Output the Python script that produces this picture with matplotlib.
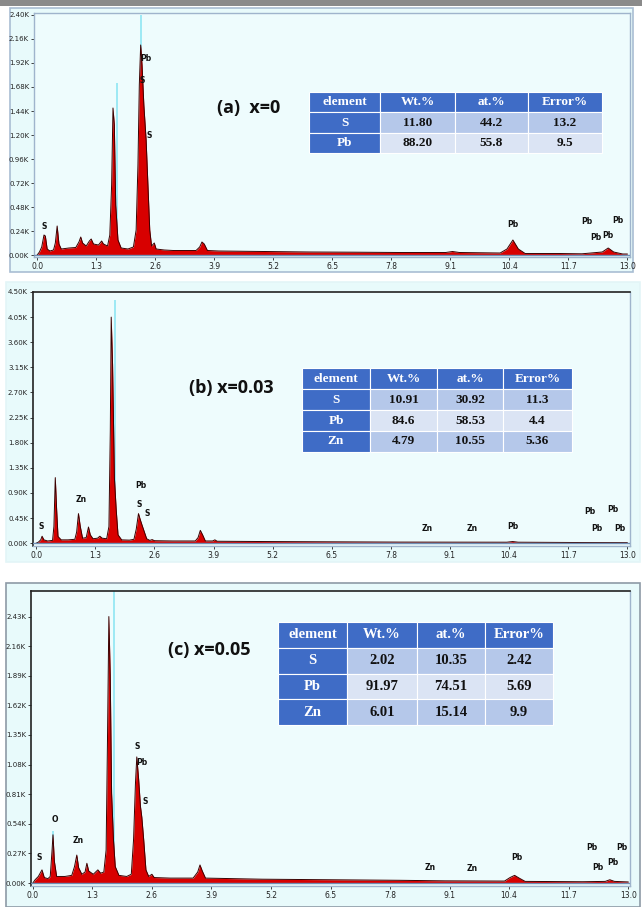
import numpy as np
import matplotlib.pyplot as plt
from matplotlib.patches import Rectangle

W, H = 642, 907

# ---------- spectrum (a) x=0 ----------
energy_a = [0.00, 0.05, 0.10, 0.15, 0.18, 0.22, 0.28, 0.36, 0.40, 0.44, 0.48, 0.53,
            0.70, 0.85, 0.92, 0.96, 1.00, 1.08, 1.15, 1.19, 1.24, 1.35, 1.42, 1.46,
            1.55, 1.60, 1.64, 1.67, 1.70, 1.73, 1.78, 1.85, 2.00, 2.12, 2.18, 2.22,
            2.25, 2.28, 2.31, 2.35, 2.40, 2.44, 2.48, 2.52, 2.58, 2.62, 2.80, 3.00,
            3.20, 3.50, 3.58, 3.63, 3.68, 3.75, 4.00, 5.00, 6.00, 7.00, 8.00, 9.00,
            9.15, 9.30, 10.20, 10.35, 10.48, 10.60, 10.75, 11.50, 12.00, 12.45, 12.58,
            12.70, 12.90, 13.00]
counts_a = [0, 30, 80, 200, 190, 60, 40, 50, 120, 290, 110, 60,
            70, 75, 130, 180, 120, 90, 140, 160, 110, 100, 140, 110,
            90, 200, 700, 1470, 1300, 500, 150, 70, 60, 80, 250, 900,
            1700, 2100, 1900, 1500, 1150, 700, 250, 90, 120, 60, 50, 45,
            45, 45, 80, 130, 110, 45, 40, 35, 30, 28, 25, 25,
            35, 25, 20, 60, 150, 60, 15, 15, 12, 30, 70,
            30, 10, 10]
cyan_e_a = [1.76, 2.28]
cyan_top_a = [1720, 2400]

# ---------- spectrum (b) x=0.03 ----------
energy_b = [0.00, 0.05, 0.10, 0.13, 0.17, 0.25, 0.36, 0.39, 0.42, 0.45, 0.48, 0.55,
            0.70, 0.85, 0.89, 0.93, 0.97, 1.02, 1.10, 1.15, 1.19, 1.25, 1.35, 1.40,
            1.45, 1.55, 1.60, 1.63, 1.65, 1.68, 1.72, 1.76, 1.80, 1.88, 2.05, 2.15,
            2.20, 2.25, 2.29, 2.33, 2.38, 2.43, 2.50, 2.55, 2.60, 3.00, 3.50, 3.56,
            3.61, 3.66, 3.72, 3.88, 3.93, 3.98, 5.00, 6.50, 8.00, 10.35, 10.48, 10.60,
            12.00, 13.00]
counts_b = [0, 20, 60, 125, 60, 40, 50, 300, 1175, 600, 120, 60,
            60, 70, 200, 530, 300, 90, 100, 290, 150, 80, 90, 125,
            90, 80, 300, 2000, 4050, 3200, 1175, 600, 150, 60, 55, 70,
            250, 530, 420, 320, 200, 80, 50, 65, 45, 40, 40, 100,
            230, 150, 40, 40, 60, 35, 30, 25, 20, 18, 30, 18,
            12, 10]
cyan_e_b = [1.74]
cyan_top_b = [4360]

# ---------- spectrum (c) x=0.05 ----------
energy_c = [0.00, 0.05, 0.12, 0.20, 0.25, 0.33, 0.38, 0.42, 0.44, 0.47, 0.52, 0.70,
            0.85, 0.91, 0.96, 1.00, 1.07, 1.14, 1.18, 1.22, 1.32, 1.42, 1.48, 1.55,
            1.60, 1.63, 1.66, 1.69, 1.72, 1.76, 1.80, 1.88, 2.05, 2.15, 2.20, 2.24,
            2.27, 2.31, 2.35, 2.38, 2.42, 2.47, 2.53, 2.60, 2.65, 3.00, 3.50, 3.60,
            3.65, 3.70, 3.77, 5.00, 6.50, 8.00, 9.00, 10.30, 10.42, 10.52, 10.62, 10.75,
            12.00, 12.50, 12.60, 12.70, 13.00]
counts_c = [0, 30, 60, 120, 50, 40, 60, 300, 440, 200, 60, 60,
            70, 150, 255, 140, 80, 100, 180, 110, 80, 120, 90, 100,
            300, 1300, 2430, 1900, 820, 400, 150, 70, 60, 80, 400, 900,
            1150, 950, 700, 600, 400, 120, 60, 80, 50, 45, 45, 100,
            165, 110, 45, 35, 30, 25, 20, 18, 50, 70, 45, 15,
            12, 15, 30, 15, 10]
cyan_e_c = [0.44, 1.77]
cyan_top_c = [470, 2700]

# ---------- peak labels (text, keV, counts) ----------
labels_a = [('S', 0.16, 240), ('Pb', 2.40, 1920), ('S', 2.31, 1700), ('S', 2.46, 1150),
            ('Pb', 10.48, 260), ('Pb', 12.10, 290), ('Pb', 12.30, 130),
            ('Pb', 12.58, 150), ('Pb', 12.80, 300)]
labels_b = [('S', 0.11, 210), ('Zn', 1.00, 700), ('Pb', 2.30, 950), ('S', 2.26, 620),
            ('S', 2.44, 460), ('Zn', 8.61, 190), ('Zn', 9.60, 190), ('Pb', 10.48, 220),
            ('Pb', 12.18, 480), ('Pb', 12.69, 515), ('Pb', 12.33, 180), ('Pb', 12.84, 180)]
labels_c = [('S', 0.13, 190), ('O', 0.48, 540), ('Zn', 1.00, 350), ('S', 2.28, 1200),
            ('Pb', 2.38, 1060), ('S', 2.46, 700), ('Zn', 8.67, 105), ('Zn', 9.60, 95),
            ('Pb', 10.58, 190), ('Pb', 12.20, 280), ('Pb', 12.86, 280),
            ('Pb', 12.33, 100), ('Pb', 12.66, 145)]

# ---------- composition tables ----------
table_cols = ['element', 'Wt.%', 'at.%', 'Error%']
elements_a = ['S', 'Pb']
values_a = [['11.80', '44.2', '13.2'], ['88.20', '55.8', '9.5']]
elements_b = ['S', 'Pb', 'Zn']
values_b = [['10.91', '30.92', '11.3'], ['84.6', '58.53', '4.4'], ['4.79', '10.55', '5.36']]
elements_c = ['S', 'Pb', 'Zn']
values_c = [['2.02', '10.35', '2.42'], ['91.97', '74.51', '5.69'], ['6.01', '15.14', '9.9']]

x_ticks = [0.0, 1.3, 2.6, 3.9, 5.2, 6.5, 7.8, 9.1, 10.4, 11.7, 13.0]


def px_rect(x0, y0, x1, y1):
    """pixel box (top-left origin) -> figure fraction [l, b, w, h]"""
    return [x0 / W, 1 - y1 / H, (x1 - x0) / W, (y1 - y0) / H]


def draw_spectrum(ax, energy, counts, cyan_e, cyan_top, labels, ystep, ylim, xlim, dark):
    ax.set_facecolor('#eefcfd')
    ax.vlines(cyan_e, 0, cyan_top, color='#86e4f2', lw=1.1, zorder=1)
    ax.fill_between(energy, counts, 0, color='#d80000', lw=0, zorder=2)
    ax.plot(energy, counts, color='#3a0000', lw=0.7, zorder=3)
    ax.axhline(0, color='#6f8fb5', lw=1.0, zorder=4)
    for t, e, c in labels:
        ax.text(e, c, t, fontsize=5.5, fontweight='bold', color='#111111',
                ha='center', va='bottom', zorder=5)
    ax.set_xticks(x_ticks)
    ax.set_xticklabels([f'{v:.1f}' for v in x_ticks])
    yt = [ystep * i for i in range(11)]
    ax.set_yticks(yt)
    ax.set_yticklabels([f'{v / 1000:.2f}K' for v in yt])
    # limits after ticks so the tick list does not widen the view
    ax.set_xlim(*xlim)
    ax.set_ylim(*ylim)
    ax.tick_params(axis='both', length=2, width=0.6, pad=1.5, colors='#222222')
    ax.tick_params(axis='y', labelsize=5)
    ax.tick_params(axis='x', labelsize=5.5)
    edge = '#222222' if dark else '#9fb4cc'
    for s in ['top', 'left']:
        ax.spines[s].set_color(edge)
        ax.spines[s].set_linewidth(1.2 if dark else 1.0)
    for s in ['right', 'bottom']:
        ax.spines[s].set_color('#9fb4cc')
        ax.spines[s].set_linewidth(1.0)


def draw_table(fig, x0, y0, x1, y1, col_edges, elements, values, fs):
    nrow = len(elements) + 1
    rh = (y1 - y0) / nrow
    dark = '#3f6cc6'
    shades = ['#b5c8ea', '#dbe4f4']
    for r in range(nrow):
        for c in range(4):
            cx0, cx1 = col_edges[c], col_edges[c + 1]
            ry0 = y0 + r * rh
            if r == 0 or c == 0:
                fc, tc = dark, 'white'
            else:
                fc, tc = shades[(r - 1) % 2], '#111111'
            fig.add_artist(Rectangle((cx0 / W, 1 - (ry0 + rh) / H), (cx1 - cx0) / W, rh / H,
                                     transform=fig.transFigure, facecolor=fc,
                                     edgecolor='white', lw=0.8, zorder=5))
            if r == 0:
                txt = table_cols[c]
            elif c == 0:
                txt = elements[r - 1]
            else:
                txt = values[r - 1][c - 1]
            fig.text((cx0 + cx1) / 2 / W, 1 - (ry0 + rh / 2) / H, txt, color=tc,
                     fontsize=fs, fontweight='bold', family='Liberation Serif',
                     ha='center', va='center', zorder=6)


fig = plt.figure(figsize=(W / 100, H / 100), dpi=100)
fig.patch.set_facecolor('white')

# panel backgrounds, kept behind the axes
fig.add_artist(Rectangle((0, 1 - 6 / H), 1, 6 / H, transform=fig.transFigure,
                         facecolor='#8a8a8a', lw=0, zorder=-10))
for (x0, y0, x1, y1, ec) in [(10, 8, 633, 272, '#a9bdd3'), (6, 282, 640, 562, '#e3f5f7'),
                             (6, 583, 640, 907, '#8d9aa6')]:
    fig.add_artist(Rectangle((x0 / W, 1 - y1 / H), (x1 - x0) / W, (y1 - y0) / H,
                             transform=fig.transFigure, facecolor='#e8fafb',
                             edgecolor=ec, lw=1.2, zorder=-10))

ax_a = fig.add_axes(px_rect(34, 13, 630, 257))
draw_spectrum(ax_a, energy_a, counts_a, cyan_e_a, cyan_top_a, labels_a,
              240, (-20, 2420), (-0.07, 13.06), False)
ax_a.text(4.65, 1470, '(a)  x=0', fontsize=13, fontweight='bold', family='Open Sans',
          ha='center', va='center', color='#111111')

ax_b = fig.add_axes(px_rect(33, 292, 630, 546))
draw_spectrum(ax_b, energy_b, counts_b, cyan_e_b, cyan_top_b, labels_b,
              450, (-50, 4500), (-0.07, 13.06), True)
ax_b.text(4.30, 2780, '(b) x=0.03', fontsize=13, fontweight='bold', family='Open Sans',
          ha='center', va='center', color='#111111')

ax_c = fig.add_axes(px_rect(31, 591, 630, 886))
draw_spectrum(ax_c, energy_c, counts_c, cyan_e_c, cyan_top_c, labels_c,
              270, (-27, 2663), (-0.04, 13.04), True)
ax_c.text(3.86, 2125, '(c) x=0.05', fontsize=13, fontweight='bold', family='Open Sans',
          ha='center', va='center', color='#111111')

draw_table(fig, 309, 92, 602, 153, [309, 380, 455, 528, 602], elements_a, values_a, 9.5)
draw_table(fig, 302, 368, 572, 452, [302, 370, 437, 503, 572], elements_b, values_b, 9.5)
draw_table(fig, 278, 622, 553, 725, [278, 347, 417, 485, 553], elements_c, values_c, 10.5)

fig.savefig('out.png', dpi=100)
